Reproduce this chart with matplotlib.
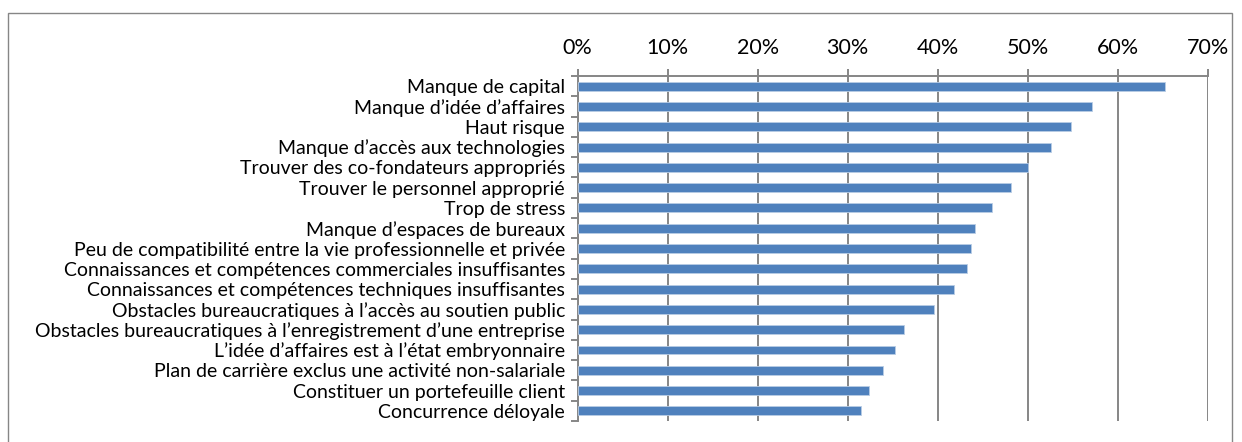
import matplotlib.pyplot as plt
from matplotlib.patches import Rectangle
from matplotlib.ticker import PercentFormatter

labels = [
    "Manque de capital",
    "Manque d’idée d’affaires",
    "Haut risque",
    "Manque d’accès aux technologies",
    "Trouver des co-fondateurs appropriés",
    "Trouver le personnel approprié",
    "Trop de stress",
    "Manque d’espaces de bureaux",
    "Peu de compatibilité entre la vie professionnelle et privée",
    "Connaissances et compétences commerciales insuffisantes",
    "Connaissances et compétences techniques insuffisantes",
    "Obstacles bureaucratiques à l’accès au soutien public",
    "Obstacles bureaucratiques à l’enregistrement d’une entreprise",
    "L’idée d’affaires est à l’état embryonnaire",
    "Plan de carrière exclus une activité non-salariale",
    "Constituer un portefeuille client",
    "Concurrence déloyale",
]
values = [65.2, 57.1, 54.8, 52.6, 50.0, 48.1, 46.0, 44.1, 43.7, 43.2,
          41.8, 39.6, 36.3, 35.3, 33.9, 32.4, 31.5]

plt.rcParams['font.family'] = ['Lato', 'DejaVu Sans']

fig = plt.figure(figsize=(12.42, 4.42), dpi=100)
ax = fig.add_axes([0.465, 0.0475, 0.5075, 0.7805])

grid_col = "#868686"
pos = list(range(len(labels)))
ax.barh(pos, values, height=0.44, color="#4F81BD", edgecolor="#B9CDE5",
        linewidth=0.6, zorder=3)

ax.set_xlim(0, 70)
ax.set_ylim(len(labels) - 0.5, -0.5)
ax.xaxis.tick_top()
ax.set_xticks(range(0, 71, 10))
ax.xaxis.set_major_formatter(PercentFormatter(decimals=0))
ax.tick_params(axis="x", direction="out", length=5, color=grid_col,
               width=1.4, labelsize=15.5, pad=8)
ax.grid(axis="x", color=grid_col, linewidth=1.4, zorder=0)

ax.set_yticks(pos)
ax.set_yticklabels(labels, fontsize=14)
ax.set_yticks([p - 0.5 for p in pos] + [len(labels) - 0.5], minor=True)
ax.tick_params(axis="y", which="major", length=0, pad=9)
ax.tick_params(axis="y", which="minor", direction="out", length=5,
               color=grid_col, width=1.4)

for side in ["right", "bottom"]:
    ax.spines[side].set_visible(False)
for side in ["top", "left"]:
    ax.spines[side].set_color(grid_col)
    ax.spines[side].set_linewidth(1.4)

fig.patches.append(Rectangle((8 / 1242, -0.02), 1224 / 1242, 1 - 13 / 442 + 0.02,
                             transform=fig.transFigure, fill=False,
                             edgecolor="#868686", linewidth=1.0))

fig.savefig("out.png", dpi=100)
